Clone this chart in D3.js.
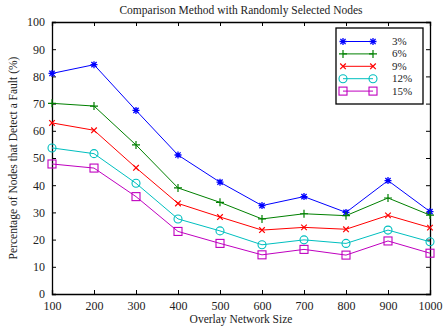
<!DOCTYPE html>
<html>
<head>
<meta charset="utf-8">
<script src="https://cdn.jsdelivr.net/npm/d3@7"></script>
<style>
  body { margin: 0; background: #fff; }
  svg text { font-family: "Liberation Serif", "DejaVu Serif", serif; fill: #222; }
</style>
</head>
<body>
<div id="chart"></div>
<script>
// chart data
const sizes = [100, 200, 300, 400, 500, 600, 700, 800, 900, 1000];
const seriesNames = ["3%", "6%", "9%", "12%", "15%"];
const pct3  = [81.1, 84.3, 67.5, 51.1, 41.1, 32.5, 35.8, 30.0, 41.7, 30.3];
const pct6  = [70.1, 69.1, 54.8, 39.0, 33.7, 27.6, 29.5, 28.8, 35.3, 29.0];
const pct9  = [62.9, 60.2, 46.4, 33.3, 28.3, 23.5, 24.5, 23.8, 28.9, 24.4];
const pct12 = [53.7, 51.6, 40.7, 27.6, 23.2, 18.1, 19.9, 18.6, 23.5, 19.2];
const pct15 = [47.8, 46.3, 35.8, 23.0, 18.6, 14.4, 16.4, 14.3, 19.5, 15.0];
const yTicks = [0, 10, 20, 30, 40, 50, 60, 70, 80, 90, 100];

const colors = ["#0000ff", "#008000", "#ff0000", "#00bfbf", "#bf00bf"];
const markers = ["star", "plus", "cross", "circle", "square"];
const allSeries = [pct3, pct6, pct9, pct12, pct15];

const W = 445, H = 329;
const margin = { top: 22, right: 15, bottom: 35, left: 52 };
const width = W - margin.left - margin.right;
const height = H - margin.top - margin.bottom;

const svg = d3.select("#chart").append("svg")
    .attr("width", W)
    .attr("height", H);

const g = svg.append("g")
    .attr("transform", `translate(${margin.left},${margin.top})`);

const x = d3.scaleLinear().domain([100, 1000]).range([0, width]);
const y = d3.scaleLinear().domain([0, 100]).range([height, 0]);

// axes, matlab style ticks pointing inward on all four sides
const xAxis = g.append("g")
    .attr("transform", `translate(0,${height})`)
    .call(d3.axisBottom(x).tickValues(sizes).tickSize(-4).tickPadding(7).tickFormat(d3.format("d")));
const yAxis = g.append("g")
    .call(d3.axisLeft(y).tickValues(yTicks).tickSize(-4).tickPadding(7));
const xTop = g.append("g")
    .call(d3.axisTop(x).tickValues(sizes).tickSize(-4).tickFormat(""));
const yRight = g.append("g")
    .attr("transform", `translate(${width},0)`)
    .call(d3.axisRight(y).tickValues(yTicks).tickSize(-4).tickFormat(""));

[xAxis, yAxis, xTop, yRight].forEach(a => {
    a.select(".domain").attr("stroke", "#000").attr("stroke-width", 1.3);
    a.selectAll(".tick line").attr("stroke", "#000");
    a.selectAll("text").style("font-size", "12px").attr("fill", "#222");
});

// marker drawing
function drawMarker(sel, type, color) {
    const s = 3.5;
    if (type === "star") {
        sel.append("path")
            .attr("d", `M${-s},0H${s}M0,${-s}V${s}M${-s*0.75},${-s*0.75}L${s*0.75},${s*0.75}M${-s*0.75},${s*0.75}L${s*0.75},${-s*0.75}`)
            .attr("stroke", color).attr("stroke-width", 1.3).attr("fill", "none");
    } else if (type === "plus") {
        sel.append("path")
            .attr("d", `M${-s-0.5},0H${s+0.5}M0,${-s-0.5}V${s+0.5}`)
            .attr("stroke", color).attr("stroke-width", 1.2).attr("fill", "none");
    } else if (type === "cross") {
        sel.append("path")
            .attr("d", `M${-s*0.8},${-s*0.8}L${s*0.8},${s*0.8}M${-s*0.8},${s*0.8}L${s*0.8},${-s*0.8}`)
            .attr("stroke", color).attr("stroke-width", 1.2).attr("fill", "none");
    } else if (type === "circle") {
        sel.append("circle").attr("r", s + 0.5)
            .attr("stroke", color).attr("stroke-width", 1.1).attr("fill", "none");
    } else if (type === "square") {
        sel.append("rect").attr("x", -s - 0.5).attr("y", -s - 0.5)
            .attr("width", 2 * s + 1).attr("height", 2 * s + 1)
            .attr("stroke", color).attr("stroke-width", 1.1).attr("fill", "none");
    }
}

const line = d3.line()
    .x((d, i) => x(sizes[i]))
    .y(d => y(d));

allSeries.forEach((vals, k) => {
    g.append("path")
        .datum(vals)
        .attr("d", line)
        .attr("fill", "none")
        .attr("stroke", colors[k])
        .attr("stroke-width", 1);

    vals.forEach((v, i) => {
        const m = g.append("g").attr("transform", `translate(${x(sizes[i])},${y(v)})`);
        drawMarker(m, markers[k], colors[k]);
    });
});

// legend
const legend = g.append("g").attr("transform", `translate(${336 - margin.left},${28 - margin.top})`);
legend.append("rect")
    .attr("width", 87).attr("height", 76)
    .attr("fill", "#fff").attr("stroke", "#000").attr("stroke-width", 1.3);

seriesNames.forEach((name, k) => {
    const ly = 13.5 + k * 12.4;
    legend.append("line")
        .attr("x1", 7).attr("x2", 37).attr("y1", ly).attr("y2", ly)
        .attr("stroke", colors[k]).attr("stroke-width", 1);
    drawMarker(legend.append("g").attr("transform", `translate(7,${ly})`), markers[k], colors[k]);
    drawMarker(legend.append("g").attr("transform", `translate(37,${ly})`), markers[k], colors[k]);
    legend.append("text")
        .attr("x", 56).attr("y", ly + 3.5)
        .style("font-size", "11px")
        .text(name);
});

// titles
svg.append("text")
    .attr("x", margin.left + width / 2).attr("y", 14)
    .attr("text-anchor", "middle")
    .style("font-size", "11.5px")
    .text("Comparison Method with Randomly Selected Nodes");

svg.append("text")
    .attr("x", margin.left + width / 2).attr("y", 323)
    .attr("text-anchor", "middle")
    .style("font-size", "11.5px")
    .text("Overlay Network Size");

svg.append("text")
    .attr("transform", `translate(17,${margin.top + height / 2}) rotate(-90)`)
    .attr("text-anchor", "middle")
    .style("font-size", "11.5px")
    .text("Percentage of Nodes that Detect a Fault (%)");
</script>
</body>
</html>
